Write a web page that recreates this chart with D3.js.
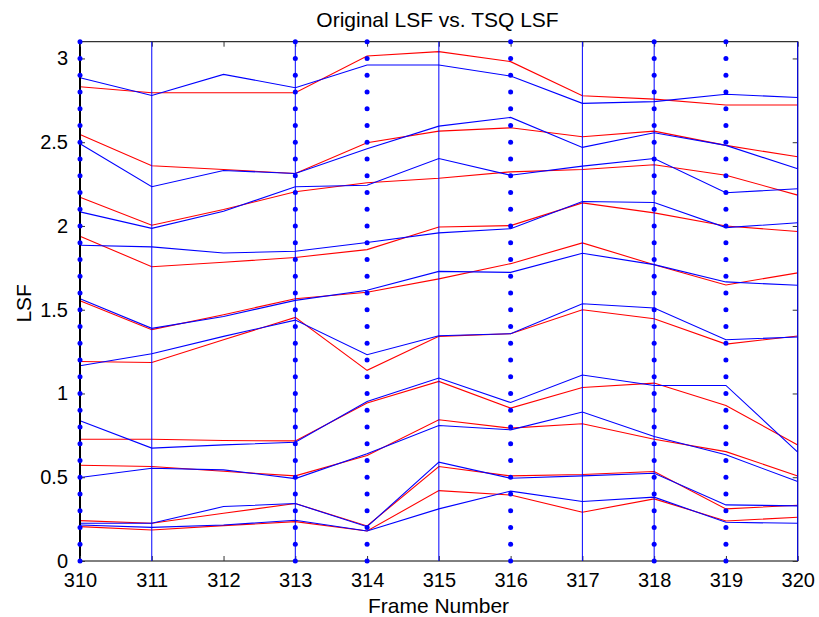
<!DOCTYPE html>
<html>
<head>
<meta charset="utf-8">
<script src="https://cdn.jsdelivr.net/npm/d3@7"></script>
<style>
  html, body { margin: 0; padding: 0; background: #fff; }
  svg { display: block; }
  text { font-family: "Liberation Sans", Arial, Helvetica, sans-serif; fill: #000; }
</style>
</head>
<body>
<svg id="chart" width="819" height="617"></svg>
<script>
// ---- data ----
const frames = [310, 311, 312, 313, 314, 315, 316, 317, 318, 319, 320];
const xTickLabels = ["310","311","312","313","314","315","316","317","318","319","320"];
const yTickValues = [0, 0.5, 1, 1.5, 2, 2.5, 3];
const yTickLabels = ["0","0.5","1","1.5","2","2.5","3"];

// original LSF (red), one array per LSF order
const orig1  = [0.205,0.185,0.211,0.235,0.179,0.420,0.394,0.291,0.371,0.239,0.261];
const orig2  = [0.241,0.225,0.285,0.343,0.209,0.564,0.508,0.516,0.534,0.311,0.333];
const orig3  = [0.572,0.564,0.536,0.508,0.630,0.843,0.793,0.819,0.727,0.653,0.508];
const orig4  = [0.727,0.727,0.719,0.717,0.943,1.072,0.913,1.036,1.062,0.928,0.693];
const orig5  = [1.191,1.185,1.321,1.454,1.138,1.341,1.357,1.500,1.446,1.295,1.343];
const orig6  = [1.554,1.381,1.470,1.566,1.604,1.684,1.775,1.899,1.769,1.648,1.720];
const orig7  = [1.939,1.757,1.783,1.812,1.859,1.994,2.002,2.138,2.078,2.000,1.967];
const orig8  = [2.172,2.004,2.098,2.204,2.258,2.285,2.323,2.337,2.365,2.303,2.184];
const orig9  = [2.546,2.359,2.337,2.313,2.497,2.566,2.586,2.533,2.566,2.481,2.413];
const orig10 = [2.831,2.795,2.795,2.795,3.015,3.041,2.981,2.777,2.757,2.722,2.722];

// TSQ LSF (blue)
const tsq1  = [0.215,0.201,0.215,0.243,0.179,0.311,0.417,0.355,0.381,0.231,0.225];
const tsq2  = [0.225,0.225,0.325,0.343,0.205,0.590,0.494,0.508,0.524,0.335,0.329];
const tsq3  = [0.498,0.554,0.544,0.492,0.640,0.809,0.783,0.889,0.743,0.634,0.474];
const tsq4  = [0.837,0.674,0.693,0.709,0.952,1.092,0.946,1.110,1.048,1.048,0.650];
const tsq5  = [1.166,1.237,1.341,1.438,1.231,1.345,1.357,1.536,1.510,1.321,1.337];
const tsq6  = [1.566,1.389,1.460,1.556,1.616,1.729,1.723,1.837,1.769,1.666,1.646];
const tsq7  = [1.885,1.875,1.839,1.849,1.901,1.959,1.984,2.146,2.140,1.990,2.019];
const tsq8  = [2.084,1.986,2.088,2.234,2.243,2.403,2.303,2.357,2.403,2.198,2.222];
const tsq9  = [2.491,2.234,2.331,2.313,2.461,2.596,2.648,2.469,2.556,2.481,2.341];
const tsq10 = [2.885,2.779,2.905,2.825,2.961,2.961,2.895,2.732,2.742,2.786,2.767];

// frame markers
const solidFrames   = [311, 315, 317, 320];        // solid blue vertical lines
const dotLineFrames = [313, 318];                  // dotted with connecting line
const dotOnlyFrames = [310, 314, 316, 319];        // dots only
const dotLevels = [0,0.1,0.2,0.3,0.4,0.5,0.6,0.7,0.8,0.9,1.0,1.1,1.2,1.3,1.4,1.5,
                   1.6,1.7,1.8,1.9,2.0,2.1,2.2,2.3,2.4,2.5,2.6,2.7,2.8,2.9,3.0,3.1];

const origSeries = [orig1,orig2,orig3,orig4,orig5,orig6,orig7,orig8,orig9,orig10];
const tsqSeries  = [tsq1,tsq2,tsq3,tsq4,tsq5,tsq6,tsq7,tsq8,tsq9,tsq10];

// ---- layout ----
const W = 819, H = 617;
const margin = {left: 80, right: 21.3, top: 41.7, bottom: 56};
const svg = d3.select("#chart");

const x = d3.scaleLinear().domain([310, 320]).range([margin.left, W - margin.right]);
const y = d3.scaleLinear().domain([0, 3.1]).range([H - margin.bottom, margin.top]);

const g = svg.append("g");
const x0 = x.range()[0], x1 = x.range()[1], y0 = y.range()[0], y1 = y.range()[1];

// series lines
const line = d3.line().x((d, i) => x(frames[i])).y(d => y(d));
g.selectAll("path.orig").data(origSeries).join("path")
  .attr("class", "orig").attr("d", line)
  .attr("fill", "none").attr("stroke", "#ff0000").attr("stroke-width", 1.1);
g.selectAll("path.tsq").data(tsqSeries).join("path")
  .attr("class", "tsq").attr("d", line)
  .attr("fill", "none").attr("stroke", "#0000ff").attr("stroke-width", 1.1);

// axis frame (black)
const axG = svg.append("g");
axG.append("rect").attr("x", x0).attr("y", y1).attr("width", x1 - x0).attr("height", y0 - y1)
  .attr("fill", "none").attr("stroke", "#000").attr("stroke-width", 1);
axG.append("line").attr("x1", x0).attr("x2", x0).attr("y1", y1).attr("y2", y0)
  .attr("stroke", "#000").attr("stroke-width", 2);

// ticks via d3 axes (inward)
const xAxisB = d3.axisBottom(x).tickValues(frames).tickFormat((d, i) => xTickLabels[i]).tickSize(-5).tickPadding(12);
const xAxisT = d3.axisTop(x).tickValues(frames).tickFormat("").tickSize(-5);
const yAxisL = d3.axisLeft(y).tickValues(yTickValues).tickFormat((d, i) => yTickLabels[i]).tickSize(-5).tickPadding(12);
const yAxisR = d3.axisRight(y).tickValues(yTickValues).tickFormat("").tickSize(-5);

function style(sel) {
  sel.select(".domain").remove();
  sel.selectAll(".tick line").attr("stroke", "#333");
  sel.selectAll(".tick text").style("font-size", "20px").style("font-family", "'Liberation Sans', Arial, sans-serif").attr("fill", "#000");
}
axG.append("g").attr("transform", `translate(0,${y0})`).call(xAxisB).call(style);
axG.append("g").attr("transform", `translate(0,${y1})`).call(xAxisT).call(style);
axG.append("g").attr("transform", `translate(${x0},0)`).call(yAxisL).call(style);
axG.append("g").attr("transform", `translate(${x1},0)`).call(yAxisR).call(style);
axG.selectAll(".tick text").attr("font-size", null);

// vertical frame markers (on top)
const mk = svg.append("g");
mk.selectAll("line.solid").data(solidFrames).join("line")
  .attr("class", "solid")
  .attr("x1", d => x(d)).attr("x2", d => x(d))
  .attr("y1", y(0)).attr("y2", y(3.1))
  .attr("stroke", "#0000ff").attr("stroke-width", 1);
mk.selectAll("line.dl").data(dotLineFrames).join("line")
  .attr("class", "dl")
  .attr("x1", d => x(d)).attr("x2", d => x(d))
  .attr("y1", y(0)).attr("y2", y(3.1))
  .attr("stroke", "#0000ff").attr("stroke-width", 1);

const dotFrames = dotLineFrames.concat(dotOnlyFrames);
const dots = [];
dotFrames.forEach(f => dotLevels.forEach(v => dots.push({f, v})));
mk.selectAll("circle").data(dots).join("circle")
  .attr("cx", d => x(d.f)).attr("cy", d => y(d.v)).attr("r", 2.5)
  .attr("fill", "#0000ff");

// labels
svg.append("text").attr("x", 437.5).attr("y", 27).attr("text-anchor", "middle")
  .style("font-size", "21px").text("Original LSF vs. TSQ LSF");
svg.append("text").attr("x", 438.5).attr("y", 613).attr("text-anchor", "middle")
  .style("font-size", "21px").text("Frame Number");
svg.append("text").attr("transform", `translate(31,${(y0 + y1) / 2 + 2}) rotate(-90)`)
  .attr("text-anchor", "middle").style("font-size", "21px").text("LSF");
</script>
</body>
</html>
